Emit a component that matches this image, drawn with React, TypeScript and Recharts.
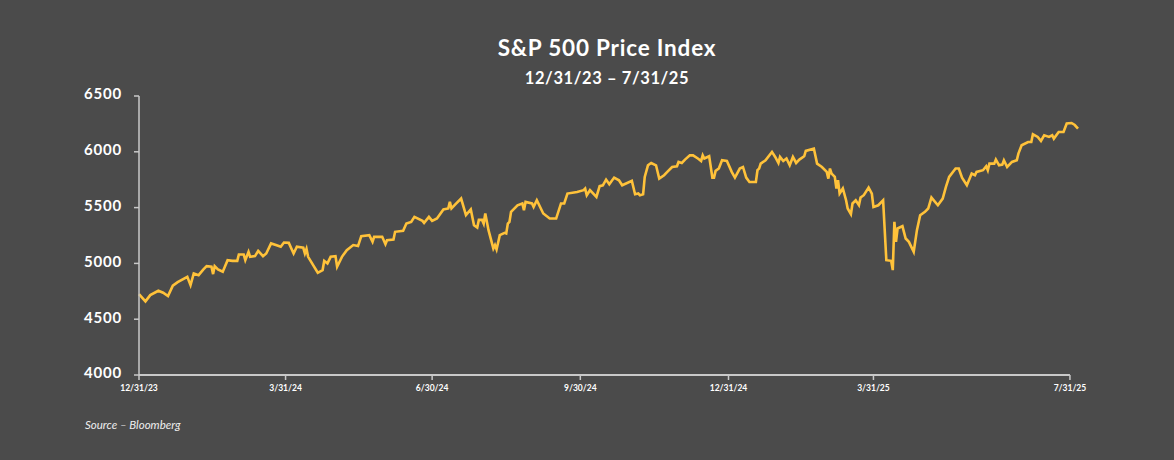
import { LineChart, Line, XAxis, YAxis, ReferenceLine } from 'recharts';

// days since 12/31/23
const dayOffsets = [
  0, 4, 7, 12, 15, 18, 21, 24, 30, 32, 34, 37, 40, 42, 45, 46, 47, 49, 52, 55, 58, 61, 62, 65, 66, 68, 69, 72, 74, 77, 79,
  82, 85, 88, 90, 93, 96, 98, 102, 103, 104, 105, 111, 114, 115, 117, 119, 122, 123, 126, 129, 133, 136, 138, 143, 145,
  146, 151, 153, 154, 158, 159, 164, 166, 169, 171, 176, 177, 180, 182, 185, 189, 192, 193, 194, 197, 200, 203, 206, 208,
  210, 211, 213, 214, 215, 217, 220, 221, 222, 224, 227, 228, 229, 230, 231, 235, 238, 239, 240, 244, 245, 247, 251, 255,
  259, 262, 264, 266, 272, 276, 277, 278, 280, 284, 286, 288, 290, 292, 295, 298, 300, 306, 308, 310, 311, 313, 314, 316,
  318, 321, 323, 326, 328, 331, 334, 335, 337, 339, 342, 344, 347, 349, 350, 351, 354, 356, 357, 358, 360, 362, 365, 368,
  370, 373, 375, 377, 379, 383, 384, 385, 386, 389, 393, 395, 397, 398, 400, 402, 404, 406, 408, 410, 413, 414, 419, 421,
  424, 427, 428, 429, 430, 432, 433, 434, 435, 437, 439, 440, 442, 443, 445, 447, 448, 450, 453, 455, 456, 459, 462, 464,
  467, 468, 469, 470, 471, 474, 476, 478, 481, 483, 485, 488, 490, 492, 496, 499, 501, 503, 507, 509, 511, 514, 517, 519,
  520, 524, 526, 527, 528, 531, 532, 534, 536, 537, 539, 542, 545, 546, 548, 552, 554, 555, 558, 560, 562, 565, 567, 568,
  571, 574, 576, 579, 581, 583,
];

const closes = [
  4725, 4660, 4716, 4755, 4737, 4707, 4800, 4832, 4880, 4805, 4910, 4895, 4946, 4975, 4970, 4904, 4975, 4946, 4925, 5029,
  5023, 5023, 5080, 5080, 5029, 5104, 5059, 5065, 5112, 5065, 5089, 5179, 5164, 5149, 5187, 5184, 5089, 5149, 5140, 5089,
  5130, 5059, 4916, 4940, 5023, 5000, 5059, 5065, 4970, 5059, 5119, 5164, 5155, 5244, 5253, 5193, 5238, 5238, 5172, 5208,
  5214, 5283, 5292, 5357, 5372, 5417, 5381, 5363, 5417, 5381, 5402, 5483, 5492, 5551, 5492, 5537, 5581, 5432, 5483, 5342,
  5322, 5390, 5390, 5357, 5447, 5298, 5134, 5164, 5125, 5253, 5274, 5268, 5357, 5372, 5462, 5521, 5537, 5477, 5551, 5537,
  5506, 5566, 5447, 5402, 5402, 5537, 5537, 5626, 5640, 5656, 5670, 5611, 5656, 5596, 5692, 5700, 5751, 5709, 5769, 5745,
  5700, 5739, 5620, 5626, 5611, 5620, 5775, 5879, 5900, 5879, 5760, 5790, 5820, 5864, 5870, 5909, 5900, 5930, 5968, 5968,
  5940, 5918, 5968, 5940, 5960, 5769, 5769, 5829, 5850, 5924, 5918, 5820, 5769, 5850, 5864, 5769, 5730, 5730, 5835, 5850,
  5894, 5924, 5999, 5954, 5900, 5954, 5918, 5940, 5879, 5954, 5900, 5930, 5960, 6008, 6029, 5894, 5864, 5820, 5760, 5850,
  5805, 5775, 5671, 5745, 5626, 5671, 5566, 5492, 5441, 5537, 5566, 5522, 5590, 5611, 5680, 5626, 5506, 5521, 5566, 5029,
  5023, 4940, 5372, 5193, 5313, 5334, 5223, 5193, 5104, 5298, 5432, 5462, 5492, 5590, 5521, 5581, 5685, 5775, 5850, 5850,
  5769, 5700, 5805, 5790, 5820, 5835, 5870, 5835, 5894, 5894, 5930, 5879, 5885, 5924, 5864, 5909, 5924, 5984, 6059, 6088,
  6088, 6157, 6133, 6097, 6148, 6133, 6148, 6118, 6178, 6178, 6253, 6258, 6240, 6208,
];

const tickDays = [0, 91, 182, 274, 366, 456, 578];
const tickLabels = ['12/31/23', '3/31/24', '6/30/24', '9/30/24', '12/31/24', '3/31/25', '7/31/25'];
const yTicks = [4000, 4500, 5000, 5500, 6000, 6500];

const data = dayOffsets.map((d, i) => ({ day: d, close: closes[i] }));

const font = 'Lato, "Open Sans", sans-serif';
const bg = '#4b4b4b';
const axisColor = '#c9c9c9';

function YTick({ x, y, payload }: any) {
  return (
    <text x={x} y={y - 2} dy="0.355em" textAnchor="end" fill="#fff" fontSize={15} fontWeight={700} fontFamily={font} letterSpacing={0.8}>
      {payload.value}
    </text>
  );
}

function XTick({ x, y, payload }: any) {
  const i = tickDays.indexOf(payload.value);
  return (
    <text x={x} y={y} dy="0.71em" textAnchor="middle" fill="#fff" fontSize={8.5} fontWeight={700} fontFamily={font}>
      {i >= 0 ? tickLabels[i] : ''}
    </text>
  );
}

export default function App() {
  return (
    <div style={{ position: 'absolute', left: 0, top: 0, width: 1174, height: 460, background: bg, fontFamily: font, color: '#fff' }}>
      <div style={{ position: 'absolute', top: 35, left: 0, width: 1214, textAlign: 'center', fontSize: 22.5, lineHeight: '26px', fontWeight: 700, letterSpacing: 0.8 }}>
        S&amp;P 500 Price Index
      </div>
      <div style={{ position: 'absolute', top: 68, left: 0, width: 1214, textAlign: 'center', fontSize: 16.5, lineHeight: '20px', fontWeight: 700, letterSpacing: 0.6 }}>
        12/31/23 – 7/31/25
      </div>
      <LineChart width={1174} height={460} data={data} margin={{ top: 96, right: 96, bottom: 55, left: 79 }}>
        <XAxis
          dataKey="day"
          type="number"
          domain={[0, 583]}
          ticks={tickDays}
          interval={0}
          axisLine={false}
          tickLine={{ stroke: axisColor, strokeWidth: 1.5 }}
          tickSize={5}
          tickMargin={5}
          height={30}
          tick={<XTick />}
        />
        <YAxis
          type="number"
          domain={[4000, 6500]}
          ticks={yTicks}
          interval={0}
          width={60}
          axisLine={{ stroke: axisColor, strokeWidth: 1.5 }}
          tickLine={{ stroke: axisColor, strokeWidth: 1.5 }}
          tickSize={5}
          tickMargin={12}
          tick={<YTick />}
        />
        <ReferenceLine
          segment={[{ x: 0, y: 4000 }, { x: 578, y: 4000 }]}
          stroke={axisColor}
          strokeWidth={2}
        />
        <Line
          dataKey="close"
          type="linear"
          stroke="#ffc23a"
          strokeWidth={2.6}
          dot={false}
          isAnimationActive={false}
        />
      </LineChart>
      <div style={{ position: 'absolute', top: 418, left: 85, fontSize: 11.5, lineHeight: '14px', fontStyle: 'italic', color: '#eee' }}>
        Source – Bloomberg
      </div>
    </div>
  );
}
